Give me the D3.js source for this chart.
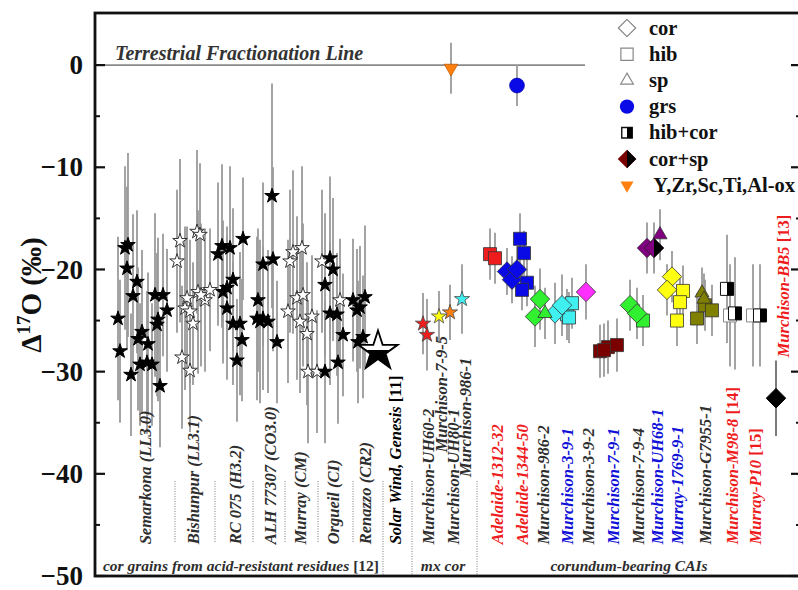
<!DOCTYPE html>
<html><head><meta charset="utf-8">
<script src="https://cdn.jsdelivr.net/npm/d3@7"></script>
<style>body{margin:0;background:#fff;} svg{display:block;font-family:"Liberation Serif","Times New Roman",serif;}</style>
</head><body><svg id="c" width="798" height="590"></svg>
<script>
// ---------------- data ----------------
const yTicks = [0, -10, -20, -30, -40, -50];
const yMinorTicks = [-5, -15, -25, -35, -45];

// cor grains from acid-resistant residues: [x, Δ17O, error, open?]
const semarkonaStars = [[2.3,-24.8,8,0],[2.5,-28.0,7,0],[3.0,-17.9,8,0],[3.3,-17.6,9,0],[3.2,-19.9,8,0],[4.2,-21.2,7,0],[3.8,-22.6,8,0],[3.6,-30.3,6,0],[4.3,-26.8,7,0],[4.7,-26.1,8,0],[5.3,-27.3,7,0],[4.5,-29.3,6,0],[5.2,-29.1,7,0],[5.7,-29.3,6,0],[6.0,-22.5,8,0],[6.2,-25.4,7,0],[6.3,-24.9,8,0],[6.8,-22.5,6,0],[7.2,-24.0,6,0],[6.5,-31.4,6,0]];
const bishunpurStars = [[8.5,-17.2,8,1],[8.2,-19.2,7,1],[10.2,-16.3,8,1],[10.5,-16.6,7,1],[9.2,-22.8,7,1],[9.0,-23.8,8,1],[9.5,-24.1,7,1],[9.8,-25.3,6,1],[10.3,-22.2,8,1],[11.0,-23.0,7,1],[10.6,-22.5,7,1],[8.7,-28.6,7,1],[9.5,-29.9,6,1],[11.5,-22.0,6,1]];
const rc075Stars = [[12.7,-17.7,8,0],[12.3,-18.5,7,0],[13.5,-17.9,8,0],[14.8,-17.0,6,0],[12.8,-22.2,7,0],[13.2,-21.8,6,0],[13.8,-21.0,7,0],[13.2,-23.8,7,0],[13.8,-25.3,6,0],[14.5,-25.3,7,0],[14.7,-26.9,6,0],[14.2,-28.9,6,0]];
const alhStars = [[17.7,-12.8,11,0],[16.8,-19.5,8,0],[17.8,-19.0,9,0],[16.3,-23.0,7,0],[16.2,-24.8,8,0],[16.8,-24.8,7,0],[17.3,-25.1,7,0],[16.5,-25.1,8,0],[18.2,-27.1,6,0]];
const murrayStars = [[19.5,-19.2,7,1],[19.8,-18.3,8,1],[20.7,-17.9,8,1],[19.3,-24.1,7,1],[20.2,-22.8,8,1],[20.8,-22.5,7,1],[20.5,-25.1,7,1],[21.7,-24.6,6,1],[21.2,-26.3,7,1],[21.3,-30.0,7,1],[22.2,-30.0,6,1]];
const orgueilStars = [[22.7,-19.2,7,1],[23.5,-18.9,8,0],[23.8,-20.0,7,0],[23.0,-21.5,7,0],[24.5,-23.0,6,1],[23.5,-24.3,7,0],[24.2,-24.4,6,0],[24.8,-26.4,6,0],[23.0,-30.0,7,0],[24.3,-29.1,6,0]];
const renazzoStars = [[25.8,-23.0,6,0],[27.0,-22.7,7,0],[26.2,-24.0,6,0],[26.5,-23.7,6,0],[26.3,-27.1,6,0],[26.8,-26.6,6,0]];

// Solar wind (Genesis)
const solarWind = [[28.3,-28.0]];

// mx cor: [x, Δ17O, error, colour]
const mxCorStars = [[32.8,-25.3,3,"red"],[33.2,-26.4,3.5,"red"],[34.4,-24.6,2.5,"yellow"],[35.5,-24.2,2.7,"orange"],[36.7,-22.9,3.4,"cyan"]];

// corundum-bearing CAIs: [x, Δ17O, error, colour]
const caiSquares = [[39.5,-18.5,2.5,"red"],[40.0,-18.9,2.5,"red"],[42.5,-17.0,2.5,"blue"],[42.9,-18.4,2.2,"blue"],[43.2,-21.3,2.3,"blue"],[42.7,-22.0,2.0,"blue"],
  [47.2,-24.4,2.5,"cyan"],[47.7,-23.3,2.5,"cyan"],[47.4,-24.7,2.5,"cyan"],
  [50.5,-28.0,2.6,"darkred"],[51.3,-27.6,2.6,"darkred"],[52.2,-27.4,2.6,"darkred"],[50.9,-27.9,2.6,"darkred"],
  [54.8,-25.0,2.5,"green"],[58.8,-22.1,2.5,"yellow"],[58.5,-23.2,2.5,"yellow"],[58.2,-25.0,2.5,"yellow"],
  [60.2,-24.8,2.5,"olive"],[61.0,-23.5,2.5,"olive"],[61.7,-24.0,2.5,"olive"]];
const caiDiamonds = [[41.2,-20.2,2.3,"blue"],[41.7,-21.0,2.3,"blue"],[42.2,-20.0,2.3,"blue"],
  [44.5,-22.9,3,"green"],[44.0,-24.6,3,"green"],[46.0,-24.3,3,"cyan"],[46.7,-23.5,3,"cyan"],
  [49.1,-22.2,2.7,"magenta"],[53.5,-23.5,2.5,"green"],[54.2,-24.3,2.5,"green"],
  [55.2,-17.9,2.5,"purple"],[57.7,-20.7,2.5,"yellow"],[57.2,-22.0,2.5,"yellow"]];
const caiTriangles = [[45.0,-24.3,2.5,"green"],[56.5,-16.6,2.5,"purple"],[60.7,-22.3,2.5,"olive"],[60.9,-22.9,2.5,"olive"]];
const halfDiamonds = [[55.9,-17.9,2.5,"purple"]];
const halfSquares = [[63.2,-21.9,5.3],[64.0,-24.3,5.5],[66.5,-24.5,5.0]];
const openSquares = [[63.5,-24.5,5.0],[65.8,-24.5,5.0]];
const bb5Diamond = [[68.1,-32.6,3.7]];
const oxideTriangles = [[35.6,-0.3,2.5]];
const grsCircles = [[42.2,-2.0,2.0]];

// separators between groups: [x, reachesBottom?]
const separators = [[8.0,0],[12.0,0],[15.8,0],[19.0,0],[22.3,0],[25.8,0],[28.8,1],[31.7,1],[38.2,1]];

// sample labels: [text, reference, x, Δ17O of text start, colour]
const sampleLabels = [
  ["Semarkona (LL3.0)","",5.0,-46.9,"grey"],["Bishunpur (LL3.1)","",9.8,-46.9,"grey"],["RC 075 (H3.2)","",14.0,-46.9,"grey"],
  ["ALH 77307 (CO3.0)","",17.5,-46.9,"grey"],["Murray (CM)","",20.5,-46.9,"grey"],["Orgueil (CI)","",23.8,-46.9,"grey"],
  ["Renazzo (CR2)","",27.0,-46.9,"grey"],["Solar Wind, Genesis ","[11]",30.0,-46.9,"black"],
  ["Murchison-UH60-2","",33.3,-46.9,"grey"],["Murchison-7-9-5","",34.6,-37.9,"grey"],
  ["Murchison-UH80-1","",35.8,-46.9,"grey"],["Murchison-986-1","",37.0,-40.3,"grey"],
  ["Adelaide-1312-32","",40.2,-46.9,"red"],["Adelaide-1344-50","",42.7,-46.9,"red"],["Murchison-986-2","",44.8,-46.9,"grey"],
  ["Murchison-3-9-1","",47.2,-46.9,"blue"],["Murchison-3-9-2","",49.3,-46.9,"grey"],["Murchison-7-9-1","",51.8,-46.9,"blue"],
  ["Murchison-7-9-4","",54.3,-46.9,"grey"],["Murchison-UH68-1","",56.2,-46.9,"blue"],["Murray-1769-9-1","",58.2,-46.9,"blue"],
  ["Murchison-G7955-1","",61.0,-46.9,"grey"],["Murchison-M98-8 ","[14]",63.7,-46.9,"red"],["Murray-P10 ","[15]",66.0,-46.9,"red"],
  ["Murchison-BB5 ","[13]",68.8,-28.6,"red"]];

// group titles: [text, reference, x centre]
const groupLabels = [["cor grains from acid-resistant residues ","[12]",14.6],["mx cor","",34.8],["corundum-bearing CAIs","",53.4]];

// legend: [label, symbol]
const legendItems = [["cor","openDiamond"],["hib","openSquare"],["sp","openTriangle"],["grs","circle"],["hib+cor","halfSquare"],["cor+sp","halfDiamond"],[" Y,Zr,Sc,Ti,Al-ox","downTriangle"]];

// ---------------- styling ----------------
const palette = {red:"#ee1c1c",blue:"#0a0ae6",cyan:"#40f0f0",green:"#30f030",magenta:"#ff30ff",darkred:"#7a0000",
  yellow:"#ffff10",olive:"#7f7f00",purple:"#800080",orange:"#ff8010",grey:"#2a2a2a",black:"#000"};
const labelColor = {grey:"#2e2e2e",black:"#000",red:"#ee1c1c",blue:"#1010d8"};

const svg = d3.select("#c");
const x = d3.scaleLinear().domain([0, 70.5]).range([95, 800]);
const y = d3.scaleLinear().domain([-50, 5.1]).range([576, 13]);

// gradient for solar-wind star
const defs = svg.append("defs");
const g1 = defs.append("linearGradient").attr("id","halfStar").attr("x1",0).attr("y1",0).attr("x2",0).attr("y2",1);
g1.append("stop").attr("offset","52%").attr("stop-color","#fff");
g1.append("stop").attr("offset","52%").attr("stop-color","#000");

// custom symbols
const sqr = {draw(c,s){const h=Math.sqrt(s)/2;c.moveTo(-h,-h);c.lineTo(h,-h);c.lineTo(h,h);c.lineTo(-h,h);c.closePath();}};
const rSq = {draw(c,s){const h=Math.sqrt(s)/2;c.moveTo(0,-h);c.lineTo(h,-h);c.lineTo(h,h);c.lineTo(0,h);c.closePath();}};
const dia = {draw(c,s){const r=Math.sqrt(s/2);c.moveTo(0,-r);c.lineTo(r,0);c.lineTo(0,r);c.lineTo(-r,0);c.closePath();}};
const rDia = {draw(c,s){const r=Math.sqrt(s/2);c.moveTo(0,-r);c.lineTo(r,0);c.lineTo(0,r);c.closePath();}};
const triU = {draw(c,s){const a=Math.sqrt(s),h=a*0.866;c.moveTo(0,-2*h/3);c.lineTo(a/2,h/3);c.lineTo(-a/2,h/3);c.closePath();}};
const triD = {draw(c,s){const a=Math.sqrt(s),h=a*0.866;c.moveTo(0,2*h/3);c.lineTo(a/2,-h/3);c.lineTo(-a/2,-h/3);c.closePath();}};
const sym = (t,s)=>d3.symbol().type(t).size(s)();

// ---------------- frame & axes ----------------
svg.append("line").attr("x1",x(0)).attr("x2",585).attr("y1",y(0)).attr("y2",y(0)).attr("stroke","#8a8a8a").attr("stroke-width",1.6);
svg.append("text").attr("x",115).attr("y",y(0)-5).attr("font-size",20).attr("font-weight","bold").attr("font-style","italic").attr("fill","#333").text("Terrestrial Fractionation Line");

svg.append("g").selectAll("line").data(separators).join("line")
  .attr("x1",d=>x(d[0])).attr("x2",d=>x(d[0])).attr("y1",y(-40.7)).attr("y2",d=>d[1]?575:543)
  .attr("stroke","#777").attr("stroke-width",1).attr("stroke-dasharray","1,1.5");

// error bars
const allErr = [];
[semarkonaStars,bishunpurStars,rc075Stars,alhStars,murrayStars,orgueilStars,renazzoStars,mxCorStars,caiSquares,caiDiamonds,caiTriangles,halfDiamonds,halfSquares,openSquares,oxideTriangles,grsCircles].forEach(a=>a.forEach(d=>allErr.push(d)));
svg.append("g").selectAll("line").data(allErr).join("line")
  .attr("x1",d=>x(d[0])).attr("x2",d=>x(d[0])).attr("y1",d=>y(d[1]+d[2])).attr("y2",d=>y(d[1]-d[2]))
  .attr("stroke","#9a9a9a").attr("stroke-width",1.8);
svg.append("g").selectAll("line").data(bb5Diamond).join("line")
  .attr("x1",d=>x(d[0])).attr("x2",d=>x(d[0])).attr("y1",d=>y(d[1]+d[2])).attr("y2",d=>y(d[1]-d[2]))
  .attr("stroke","#222").attr("stroke-width",1.2);

// stars
const stars = [].concat(semarkonaStars,bishunpurStars,rc075Stars,alhStars,murrayStars,orgueilStars,renazzoStars);
svg.append("g").selectAll("path").data(stars).join("path")
  .attr("transform",d=>`translate(${x(d[0])},${y(d[1])})`)
  .attr("d",sym(d3.symbolStar,66))
  .attr("fill",d=>d[3]?"#fff":"#000").attr("stroke",d=>d[3]?"#333":"#000").attr("stroke-width",1);
svg.append("g").selectAll("path").data(mxCorStars).join("path")
  .attr("transform",d=>`translate(${x(d[0])},${y(d[1])})`)
  .attr("d",sym(d3.symbolStar,72))
  .attr("fill",d=>palette[d[3]]).attr("stroke","#444").attr("stroke-width",0.8);
svg.append("g").selectAll("path").data(solarWind).join("path")
  .attr("transform",d=>`translate(${x(d[0])},${y(d[1])})`)
  .attr("d",sym(d3.symbolStar,480))
  .attr("fill","url(#halfStar)").attr("stroke","#000").attr("stroke-width",1.8);

// CAI markers
const mk = (data, type, size) => svg.append("g").selectAll("path").data(data).join("path")
  .attr("transform",d=>`translate(${x(d[0])},${y(d[1])})`).attr("d",sym(type,size));
mk(caiSquares,sqr,170).attr("fill",d=>palette[d[3]]).attr("stroke","#333").attr("stroke-width",0.8);
mk(caiDiamonds,dia,190).attr("fill",d=>palette[d[3]]).attr("stroke","#333").attr("stroke-width",0.8);
mk(caiTriangles,triU,200).attr("fill",d=>palette[d[3]]).attr("stroke","#333").attr("stroke-width",0.8);
mk(halfDiamonds,dia,190).attr("fill",d=>palette[d[3]]).attr("stroke","#222").attr("stroke-width",0.8);
mk(halfDiamonds,rDia,190).attr("fill","#000");
mk(openSquares,sqr,170).attr("fill","#fff").attr("stroke","#888").attr("stroke-width",1);
mk(halfSquares,sqr,170).attr("fill","#fff").attr("stroke","#111").attr("stroke-width",1);
mk(halfSquares,rSq,170).attr("fill","#000");
mk(bb5Diamond,dia,190).attr("fill","#000").attr("stroke","#000");
mk(oxideTriangles,triD,190).attr("fill",palette.orange).attr("stroke","#b05000").attr("stroke-width",0.6);
mk(grsCircles,d3.symbolCircle,175).attr("fill",palette.blue).attr("stroke","#0000a0").attr("stroke-width",0.6);

// axes
const yAxisL = d3.axisLeft(y).tickValues(yTicks).tickSize(0).tickPadding(12).tickFormat(d3.format("d"));
const gL = svg.append("g").attr("transform","translate(95,0)").call(yAxisL);
gL.select(".domain").remove();
gL.selectAll("text").attr("font-size",27).attr("font-weight","bold").attr("font-family","Liberation Serif").attr("fill","#111");
function ticks(x0, dir){
  svg.append("g").selectAll("line").data(yTicks).join("line").attr("x1",x0).attr("x2",x0+dir*10).attr("y1",d=>y(d)).attr("y2",d=>y(d)).attr("stroke","#111").attr("stroke-width",2.2);
  svg.append("g").selectAll("line").data(yMinorTicks).join("line").attr("x1",x0).attr("x2",x0+dir*5).attr("y1",d=>y(d)).attr("y2",d=>y(d)).attr("stroke","#111").attr("stroke-width",2);
}
ticks(95,1); ticks(801,-1);
svg.append("rect").attr("x",95).attr("y",y(5.1)).attr("width",801-95).attr("height",y(-50)-y(5.1))
  .attr("fill","none").attr("stroke","#111").attr("stroke-width",2.8);

// y title
const yt = svg.append("text").attr("transform",`translate(41,${(y(-22.5))}) rotate(-90)`).attr("text-anchor","middle")
  .attr("font-size",29).attr("font-weight","bold").attr("fill","#111");
yt.append("tspan").text("Δ");
yt.append("tspan").attr("font-size",19).attr("dy",-11).text("17");
yt.append("tspan").attr("dy",11).text("O (‰)");

// sample labels
const lab = svg.append("g").selectAll("text").data(sampleLabels).join("text")
  .attr("transform",d=>`translate(${x(d[2])+5.5},${y(d[3])}) rotate(-90)`)
  .attr("font-size",16.5).attr("font-weight","bold").attr("font-style","italic").attr("fill",d=>labelColor[d[4]]);
lab.append("tspan").text(d=>d[0]);
lab.append("tspan").attr("font-style","normal").text(d=>d[1]);

// group labels
const gl = svg.append("g").selectAll("text").data(groupLabels).join("text")
  .attr("x",d=>x(d[2])).attr("y",571).attr("text-anchor","middle")
  .attr("font-size",15.5).attr("font-weight","bold").attr("font-style","italic").attr("fill","#2e2e2e");
gl.append("tspan").text(d=>d[0]);
gl.append("tspan").attr("font-style","normal").text(d=>d[1]);

// legend
const leg = svg.append("g").selectAll("g").data(legendItems).join("g")
  .attr("transform",(d,i)=>`translate(627,${28+i*26.2})`);
const legSym = {
  openDiamond: g=>g.append("path").attr("d",sym(dia,150)).attr("fill","#fff").attr("stroke","#888").attr("stroke-width",1.2),
  openSquare: g=>g.append("path").attr("d",sym(sqr,150)).attr("fill","#fff").attr("stroke","#888").attr("stroke-width",1.2),
  openTriangle: g=>g.append("path").attr("d",sym(triU,160)).attr("fill","#fff").attr("stroke","#888").attr("stroke-width",1.2),
  circle: g=>g.append("path").attr("d",sym(d3.symbolCircle,160)).attr("fill",palette.blue),
  halfSquare: g=>{g.append("path").attr("d",sym(sqr,110)).attr("fill","#fff").attr("stroke","#111").attr("stroke-width",1.4);g.append("path").attr("d",sym(rSq,110)).attr("fill","#000");},
  halfDiamond: g=>{g.append("path").attr("d",sym(dia,170)).attr("fill",palette.darkred);g.append("path").attr("d",sym(rDia,170)).attr("fill","#000");},
  downTriangle: g=>g.append("path").attr("d",sym(triD,170)).attr("fill",palette.orange)
};
leg.each(function(d){ legSym[d[1]](d3.select(this)); });
leg.append("text").attr("x",22).attr("y",6.5).attr("font-size",20.5).attr("font-weight","bold").attr("fill","#111").style("white-space","pre").text(d=>d[0]);
</script></body></html>
